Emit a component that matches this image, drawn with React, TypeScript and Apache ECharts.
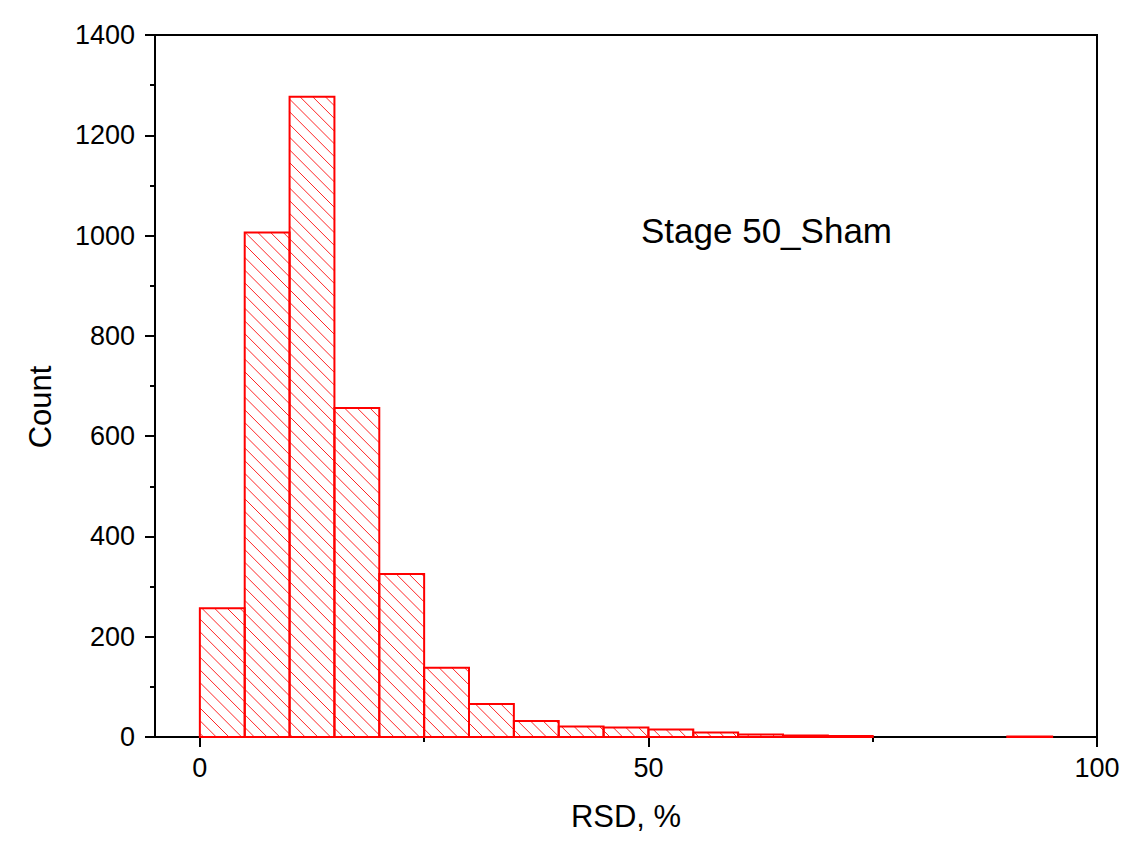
import React, { useEffect, useRef } from "react";
import * as echarts from "echarts";

const binStarts = [0, 5, 10, 15, 20, 25, 30, 35, 40, 45, 50, 55, 60, 65, 70, 75, 80, 85, 90, 95];
const counts = [257, 1006, 1277, 656, 325, 138, 66, 32, 21, 19, 15, 9, 5, 3, 2, 0, 0, 0, 1, 0];
const binWidth = 5;
const xMajorTicks = [0, 50, 100];
const xMinorTicks = [25, 75];
const xTitle = "RSD, %";
const yTitle = "Count";
const annotation = "Stage 50_Sham";

const FONT = "'Liberation Sans', Arial, Helvetica, sans-serif";
const RED = "#ff0000";
const HATCH_COLOR = "rgba(255,0,0,0.85)";
const HATCH = 12.7;

export default function App() {
  const ref = useRef<HTMLDivElement>(null);
  useEffect(() => {
    if (!ref.current) return;
    const chart = echarts.init(ref.current, undefined, { renderer: "svg" });
    const data = binStarts.map((s, i) => [s, counts[i]]);

    const renderItem = (params: any, api: any) => {
      const start = api.value(0);
      const c = api.value(1);
      if (!c) return { type: "group", children: [] };
      const p0 = api.coord([start, 0]);
      const p1 = api.coord([start + binWidth, c]);
      const x0 = p0[0];
      const x1 = p1[0];
      const y0 = p1[1];
      const y1 = p0[1];
      const children: any[] = [];
      const nMin = Math.ceil((y0 - x1) / HATCH);
      const nMax = Math.floor((y1 - x0) / HATCH);
      let d = "";
      for (let n = nMin; n <= nMax; n++) {
        const k = n * HATCH;
        const lo = Math.max(x0, y0 - k);
        const hi = Math.min(x1, y1 - k);
        if (hi - lo > 0.5) {
          d += `M${lo.toFixed(2)} ${(lo + k).toFixed(2)}L${hi.toFixed(2)} ${(hi + k).toFixed(2)}`;
        }
      }
      if (d) {
        children.push({
          type: "path",
          shape: { pathData: d },
          style: { stroke: HATCH_COLOR, lineWidth: 1, fill: null },
          silent: true,
        });
      }
      children.push({
        type: "rect",
        shape: { x: x0, y: y0, width: x1 - x0, height: y1 - y0 },
        style: { fill: null, stroke: RED, lineWidth: 2 },
      });
      return { type: "group", children };
    };

    chart.setOption({
      animation: false,
      backgroundColor: "#ffffff",
      textStyle: { fontFamily: FONT },
      grid: {
        left: 155,
        top: 35,
        right: 38,
        bottom: 108,
        show: true,
        borderColor: "#000",
        borderWidth: 2,
        backgroundColor: "transparent",
      },
      xAxis: [
        {
          type: "value",
          min: -5,
          max: 100,
          name: xTitle,
          nameLocation: "middle",
          nameGap: 64,
          nameTextStyle: { fontSize: 31, color: "#000", fontFamily: FONT },
          axisLine: { show: true, onZero: false, lineStyle: { color: "#000", width: 2 } },
          axisTick: { show: true, inside: false, length: 10, customValues: xMajorTicks, lineStyle: { color: "#000", width: 2 } },
          axisLabel: { fontSize: 27, color: "#000", margin: 17, customValues: xMajorTicks, fontFamily: FONT, formatter: (v: number) => String(v) },
          splitLine: { show: false },
        },
        {
          type: "value",
          min: -5,
          max: 100,
          position: "bottom",
          axisLine: { show: false, onZero: false },
          axisTick: { show: true, inside: false, length: 5, customValues: xMinorTicks, lineStyle: { color: "#000", width: 2 } },
          axisLabel: { show: false },
          splitLine: { show: false },
        },
      ],
      yAxis: {
        type: "value",
        min: 0,
        max: 1400,
        interval: 200,
        axisLine: { show: true, onZero: false, lineStyle: { color: "#000", width: 2 } },
        axisTick: { show: true, inside: false, length: 10, lineStyle: { color: "#000", width: 2 } },
        minorTick: { show: true, splitNumber: 2, length: 5, lineStyle: { color: "#000", width: 2 } },
        axisLabel: { fontSize: 27, color: "#000", margin: 20, fontFamily: FONT, formatter: (v: number) => String(v) },
        splitLine: { show: false },
      },
      graphic: [
        {
          type: "text",
          x: 40,
          y: 407,
          rotation: Math.PI / 2,
          style: {
            text: yTitle,
            fontSize: 31,
            fontFamily: FONT,
            fill: "#000",
            textAlign: "center",
            textVerticalAlign: "middle",
          },
        },
        {
          type: "text",
          x: 641,
          y: 230,
          style: {
            text: annotation,
            fontSize: 35,
            fontFamily: FONT,
            fill: "#000",
            textAlign: "left",
            textVerticalAlign: "middle",
          },
        },
      ],
      series: [
        {
          type: "custom",
          xAxisIndex: 0,
          yAxisIndex: 0,
          renderItem,
          encode: { x: 0, y: 1 },
          data,
        },
      ],
    });
    return () => chart.dispose();
  }, []);
  return <div ref={ref} style={{ position: "fixed", left: 0, top: 0, width: 1135, height: 845 }} />;
}
